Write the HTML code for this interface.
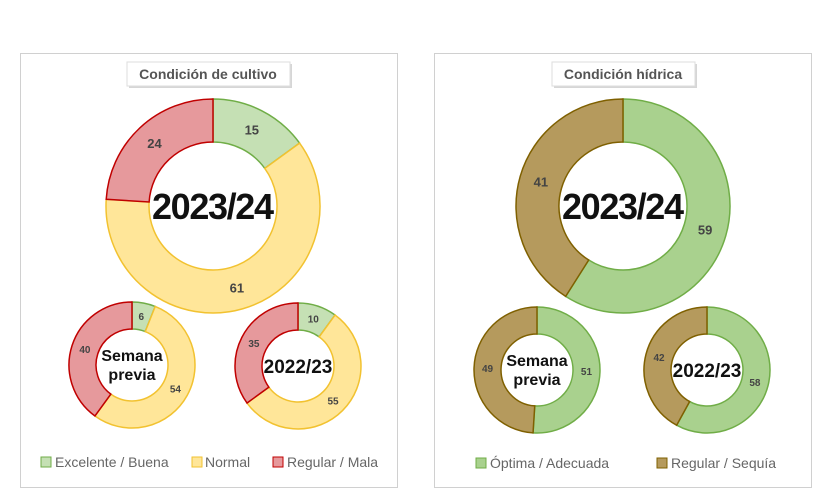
<!DOCTYPE html>
<html><head><meta charset="utf-8"><style>
body{margin:0;background:#fff;width:839px;height:490px;overflow:hidden;font-family:"Liberation Sans",sans-serif}
</style></head><body>
<svg id="s" width="839" height="490" xmlns="http://www.w3.org/2000/svg">
<rect x="20.5" y="53.5" width="377" height="434" fill="#fff" stroke="#d0d0d0"/>
<rect x="434.5" y="53.5" width="377" height="434" fill="#fff" stroke="#d0d0d0"/>
<rect x="129" y="64" width="163" height="24" fill="#bbb" opacity="0.6"/>
<rect x="127" y="62" width="163" height="24" fill="#fff" stroke="#ddd"/>
<text x="208" y="79" text-anchor="middle" font-size="14" font-weight="bold" fill="#555">Condición  de cultivo</text>
<rect x="554" y="64" width="143" height="24" fill="#bbb" opacity="0.6"/>
<rect x="552" y="62" width="143" height="24" fill="#fff" stroke="#ddd"/>
<text x="623" y="79" text-anchor="middle" font-size="14" font-weight="bold" fill="#555">Condición  hídrica</text>
<g id="g"></g>
<g font-size="14" fill="#666">
<rect x="41" y="457" width="10" height="10" fill="#c5e0b4" stroke="#70ad47"/><text x="55" y="467">Excelente / Buena</text>
<rect x="192" y="457" width="10" height="10" fill="#ffe699" stroke="#f2c230"/><text x="205" y="467">Normal</text>
<rect x="273" y="457" width="10" height="10" fill="#e6999c" stroke="#c00000"/><text x="287" y="467">Regular / Mala</text>
<rect x="476" y="458" width="10" height="10" fill="#a9d18e" stroke="#70ad47"/><text x="490" y="468">Óptima / Adecuada</text>
<rect x="657" y="458" width="10" height="10" fill="#b59a5d" stroke="#7f6000"/><text x="671" y="468">Regular / Sequía</text>
</g>
</svg>
<script>
const G=document.getElementById('g');
const C={g:['#c5e0b4','#70ad47'],y:['#ffe699','#f2c230'],r:['#e6999c','#c00000'],G:['#a9d18e','#70ad47'],b:['#b59a5d','#7f6000']};
function pt(cx,cy,r,a){a=a*2*Math.PI/100;return [cx+r*Math.sin(a),cy-r*Math.cos(a)];}
function donut(cx,cy,R,r,segs,lab,labSize,labels,lfs){
 let s=0,h='';
 segs.forEach(([v,c],i)=>{
  const e=s+v,l=v>50?1:0;
  const a=pt(cx,cy,R,s),b=pt(cx,cy,R,e),c2=pt(cx,cy,r,e),d=pt(cx,cy,r,s);
  h+=`<path d="M${a}A${R},${R} 0 ${l} 1 ${b}L${c2}A${r},${r} 0 ${l} 0 ${d}Z" fill="${C[c][0]}" stroke="${C[c][1]}" stroke-width="1.5"/>`;
  const m=pt(cx,cy,(R+r)/2,s+v/2);
  h+=`<text x="${m[0]}" y="${m[1]+lfs*0.35}" text-anchor="middle" font-size="${lfs}" font-weight="bold" fill="#444">${v}</text>`;
  s=e;
 });
 lab.forEach((t,i)=>{h+=`<text x="${cx}" y="${cy+labels[i]}" text-anchor="middle" font-size="${labSize}" font-weight="bold" fill="#111" textLength="${t.length>6&&labSize>30?122:''}">${t}</text>`.replace(' textLength=""','');});
 G.innerHTML+=h;
}
donut(213,206,107,64,[[15,'g'],[61,'y'],[24,'r']],['2023/24'],36,[13],13);
donut(132,365,63,36,[[6,'g'],[54,'y'],[40,'r']],['Semana','previa'],16,[-4,15],10);
donut(298,366,63,36,[[10,'g'],[55,'y'],[35,'r']],['2022/23'],19,[7],10);
donut(623,206,107,64,[[59,'G'],[41,'b']],['2023/24'],36,[13],13);
donut(537,370,63,36,[[51,'G'],[49,'b']],['Semana','previa'],16,[-4,15],10);
donut(707,370,63,36,[[58,'G'],[42,'b']],['2022/23'],19,[7],10);
</script>
</body></html>
